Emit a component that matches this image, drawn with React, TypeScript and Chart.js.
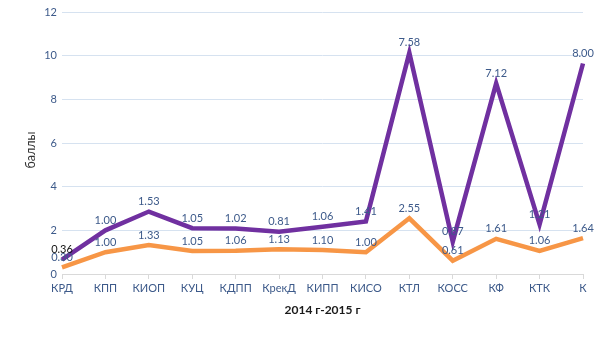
import React, { useEffect, useRef } from "react";
import { Chart, registerables } from "chart.js";

Chart.register(...registerables);

const categories = ["КРД", "КПП", "КИОП", "КУЦ", "КДПП", "КрекД", "КИПП", "КИСО", "КТЛ", "КОСС", "КФ", "КТК", "К"];
const orangeValues = [0.3, 1.0, 1.33, 1.05, 1.06, 1.13, 1.1, 1.0, 2.55, 0.61, 1.61, 1.06, 1.64];
const purpleValues = [0.36, 1.0, 1.53, 1.05, 1.02, 0.81, 1.06, 1.41, 7.58, 0.87, 7.12, 1.21, 8.0];
const yTicks = [0, 2, 4, 6, 8, 10, 12];
const yTitle = "баллы";
const xTitle = "2014 г-2015 г";

const FONT = "Lato, 'Liberation Sans', sans-serif";
const TEXT_BLUE = "#3d5a8a";

const labelPlugin = {
  id: "pointLabels",
  afterDatasetsDraw(chart: any) {
    const ctx = chart.ctx;
    ctx.save();
    ctx.font = `11px ${FONT}`;
    ctx.textAlign = "center";
    ctx.textBaseline = "middle";
    chart.data.datasets.forEach((ds: any, di: number) => {
      const meta = chart.getDatasetMeta(di);
      meta.data.forEach((pt: any, i: number) => {
        const v = ds.data[i];
        ctx.fillStyle = ds.labelColors ? ds.labelColors[i] : TEXT_BLUE;
        ctx.fillText(v.toFixed(2), pt.x, pt.y - 10);
      });
    });
    ctx.restore();
  },
};

const yTitlePlugin = {
  id: "yTitle",
  afterDraw(chart: any) {
    const ctx = chart.ctx;
    const area = chart.chartArea;
    ctx.save();
    ctx.translate(31, (area.top + area.bottom) / 2 + 7);
    ctx.rotate(-Math.PI / 2);
    ctx.font = `12.5px ${FONT}`;
    ctx.fillStyle = "#333333";
    ctx.textAlign = "center";
    ctx.textBaseline = "middle";
    ctx.fillText(yTitle, 0, 0);
    ctx.restore();
  },
};

export default function App() {
  const ref = useRef<HTMLCanvasElement>(null);
  useEffect(() => {
    document.body.style.margin = "0";
    const chart = new Chart(ref.current!, {
      type: "line",
      data: {
        labels: categories,
        datasets: [
          {
            label: "orange",
            data: orangeValues,
            borderColor: "#f79646",
            backgroundColor: "#f79646",
            borderWidth: 4.5,
            pointRadius: 0,
            tension: 0,
            fill: false,
            labelColors: orangeValues.map(() => TEXT_BLUE),
          } as any,
          {
            label: "purple",
            data: purpleValues,
            borderColor: "#7030a0",
            backgroundColor: "#7030a0",
            borderWidth: 4.5,
            pointRadius: 0,
            tension: 0,
            fill: false,
            labelColors: purpleValues.map((_, i) => (i === 0 ? "#111111" : TEXT_BLUE)),
          } as any,
        ],
      },
      options: {
        animation: false,
        responsive: false,
        layout: { padding: { left: 19, right: 22, top: 12, bottom: 19 } },
        plugins: { legend: { display: false }, tooltip: { enabled: false } },
        scales: {
          x: {
            afterFit(scale: any) {
              scale.height = 47;
            },
            grid: { drawOnChartArea: false, drawTicks: true, tickLength: 5, color: "#d9d9d9" },
            border: { color: "#d9d9d9" },
            ticks: { color: TEXT_BLUE, font: { family: FONT, size: 11 }, padding: 3, maxRotation: 0 },
            title: {
              display: true,
              text: xTitle,
              color: "#1a1a1a",
              font: { family: FONT, size: 12, weight: "bold" },
            },
          },
          y: {
            stacked: true,
            min: 0,
            max: 12,
            afterFit(scale: any) {
              scale.width = 43;
            },
            afterBuildTicks(scale: any) {
              scale.ticks = yTicks.map((v) => ({ value: v }));
            },
            grid: { drawTicks: false, color: "#d6e2f0" },
            border: { display: false },
            ticks: { color: TEXT_BLUE, font: { family: FONT, size: 11 }, padding: 5 },
            title: { display: false },
          },
        },
      } as any,
      plugins: [labelPlugin, yTitlePlugin],
    });
    return () => chart.destroy();
  }, []);
  return (
    <div style={{ position: "absolute", left: 0, top: 0, width: 605, height: 340, background: "#fff" }}>
      <canvas ref={ref} width={605} height={340} />
    </div>
  );
}
